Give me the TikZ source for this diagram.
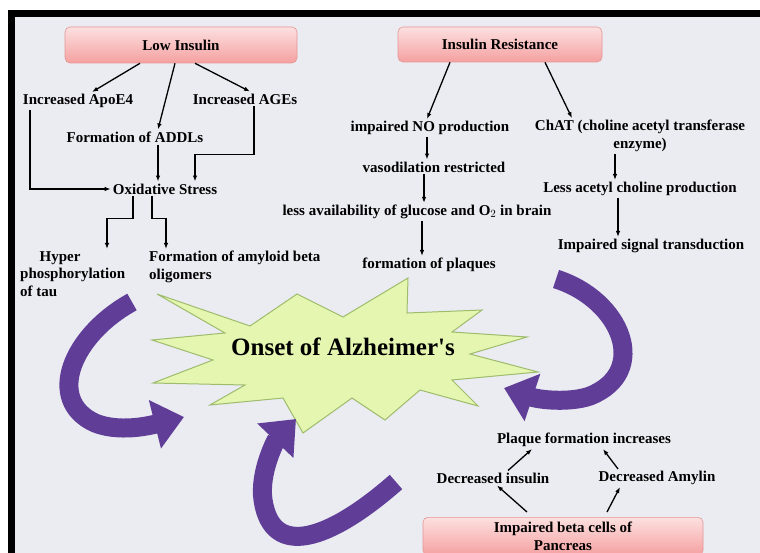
\documentclass[tikz,border=0pt]{standalone}
\usepackage{fontspec}
\setmainfont{Liberation Serif}
\usetikzlibrary{arrows.meta,%
                shapes,positioning}

\definecolor{slidebg}{RGB}{235,235,242}
\definecolor{boxtop}{RGB}{252,224,224}
\definecolor{boxbot}{RGB}{245,160,160}
\definecolor{boxline}{RGB}{228,150,150}
\definecolor{burst}{RGB}{229,246,176}
\definecolor{burstline}{RGB}{158,188,108}
\definecolor{swirl}{RGB}{96,62,152}

\tikzset{
  lbl/.style={font=\fontsize{15}{17.5}\selectfont\bfseries, inner sep=2pt},
  causebox/.style={rectangle, rounded corners=5pt, draw=boxline, line width=0.6pt,
    top color=boxtop, bottom color=boxbot,
    font=\fontsize{15}{17.5}\selectfont\bfseries},
  arr/.style={-{Latex[length=6pt,width=4.5pt]}, line width=1.3pt},
  swirlarrow/.style={draw=swirl, line width=19pt, -{Triangle[length=30pt,width=48pt]}},
}

\begin{document}
\begin{tikzpicture}[x=1pt,y=-1pt]
\useasboundingbox (0,0) rectangle (760,553);
\clip (0,0) rectangle (760,553);
% slide
\fill[white] (0,0) rectangle (760,553);
\fill[slidebg] (15,17) rectangle (760,553);
\fill[black] (8,10) rectangle (760,17);
\fill[black] (8,10) rectangle (15,553);

% burst
\draw[burstline, fill=burst, line width=1pt, line join=miter]
  (157,294) -- (250,326) -- (297,294) -- (343,317) -- (408,278) -- (407,313)
  -- (482,310) -- (452,332) -- (527,337) -- (470,354) -- (538,372) -- (452,380)
  -- (478,406) -- (420,390) -- (385,420) -- (352,398) -- (303,433) -- (283,398)
  -- (210,405) -- (245,385) -- (153,383) -- (213,360) -- (152,340) -- (225,333)
  -- cycle;
\node[font=\fontsize{25}{29}\selectfont\bfseries] (onset) at (343,347) {Onset of Alzheimer\textquotesingle s};

% swirls
\coordinate (swA) at (132,302);
\coordinate (tipA) at (184,417);
\coordinate (swB) at (396,482);
\coordinate (tipB) at (296,419);
\coordinate (swC) at (556,279);
\coordinate (tipC) at (504,388);
\draw[swirlarrow] (swA) .. controls (72,335) and (45,400) .. (95,423) .. controls (115,431) and (140,428) .. (tipA);
\draw[swirlarrow] (swB) .. controls (330,540) and (272,560) .. (263,500) .. controls (259,472) and (276,440) .. (tipB);
\draw[swirlarrow] (swC) .. controls (622,300) and (650,372) .. (590,396) .. controls (570,403) and (540,400) .. (tipC);

% boxes
\node[causebox, minimum width=232pt, minimum height=36pt] (li) at (181,45) {Low Insulin};
\node[causebox, minimum width=204pt, minimum height=35pt] (ir) at (500,44.5) {Insulin Resistance};
\node[causebox, minimum width=280pt, inner ysep=5pt, align=center, anchor=north] (pb) at (563,517) {Impaired beta cells of\\Pancreas};

% left branch
\node[lbl] (apo) at (78,101) {Increased ApoE4};
\node[lbl] (addl) at (135,137) {Formation of ADDLs};
\node[lbl] (age) at (245,99) {Increased AGEs};
\node[lbl] (ox) at (165,189) {Oxidative Stress};
\node[lbl, anchor=north west, align=left] (hyp) at (18,249) {\hspace*{1.3em}Hyper\\phosphorylation\\of tau};
\node[lbl, anchor=north west, align=left] (amy) at (147,249) {Formation of amyloid beta\\oligomers};

% right branch
\node[lbl] (no) at (430,128) {impaired NO production};
\node[lbl, align=center] (chat) at (640,136) {ChAT (choline acetyl transferase\\enzyme)};
\node[lbl] (vaso) at (434,167) {vasodilation restricted};
\node[lbl] (less) at (417,212) {less availability of glucose and O$_2$ in brain};
\node[lbl] (form) at (429,265) {formation of plaques};
\node[lbl] (acet) at (640,189) {Less acetyl choline production};
\node[lbl] (sig) at (651,246) {Impaired signal transduction};

% pancreas branch
\node[lbl] (plq) at (584,440) {Plaque formation increases};
\node[lbl] (dins) at (493,478) {Decreased insulin};
\node[lbl] (damy) at (657,478) {Decreased Amylin};

\draw[arr] ([xshift=-41pt]li.south) -- ([xshift=14pt]apo.north);
\draw[arr] ([xshift=-6pt]li.south) -- ([xshift=23pt]addl.north);
\draw[arr] ([xshift=14pt]li.south) -- ([xshift=5pt]age.north);
\draw[arr] ([xshift=-48pt]apo.south) |- (ox.west);
\draw[arr] ([xshift=23pt]addl.south) -- ([xshift=-7pt]ox.north);
\draw[arr] ([xshift=9pt]age.south) -- ++(0,48) -| ([xshift=30pt]ox.north);
\draw[arr] ([xshift=-32pt]ox.south) -- ++(0,22) -| ([xshift=89pt]hyp.north west);
\draw[arr] ([xshift=-13pt]ox.south) -- ++(0,22) -| ([xshift=19pt]amy.north west);

\draw[arr] ([xshift=-50pt]ir.south) -- ([xshift=-3pt]no.north);
\draw[arr] ([xshift=45pt]ir.south) -- ([xshift=-68pt]chat.north);
\draw[arr] ([xshift=-3pt]no.south) -- ([xshift=-3pt]no.south |- vaso.north);
\draw[arr] ([xshift=-10pt]vaso.south) -- ([xshift=-10pt]vaso.south |- less.north);
\draw[arr] ([xshift=5pt]less.south) -- ([xshift=5pt]less.south |- form.north);
\draw[arr] ([xshift=-25pt]chat.south) -- ([xshift=-25pt]chat.south |- acet.north);
\draw[arr] ([xshift=-22pt]acet.south) -- ([xshift=-22pt]acet.south |- sig.north);

\draw[arr] ([xshift=15pt]dins.north) -- ([xshift=-52pt]plq.south);
\draw[arr] ([xshift=-39pt]damy.north) -- ([xshift=19pt]plq.south);
\draw[arr] ([xshift=-36pt,yshift=5pt]pb.north) -- ([xshift=4pt]dins.south);
\draw[arr] ([xshift=44pt,yshift=5pt]pb.north) -- ([xshift=-37pt]damy.south);
\end{tikzpicture}
\end{document}
